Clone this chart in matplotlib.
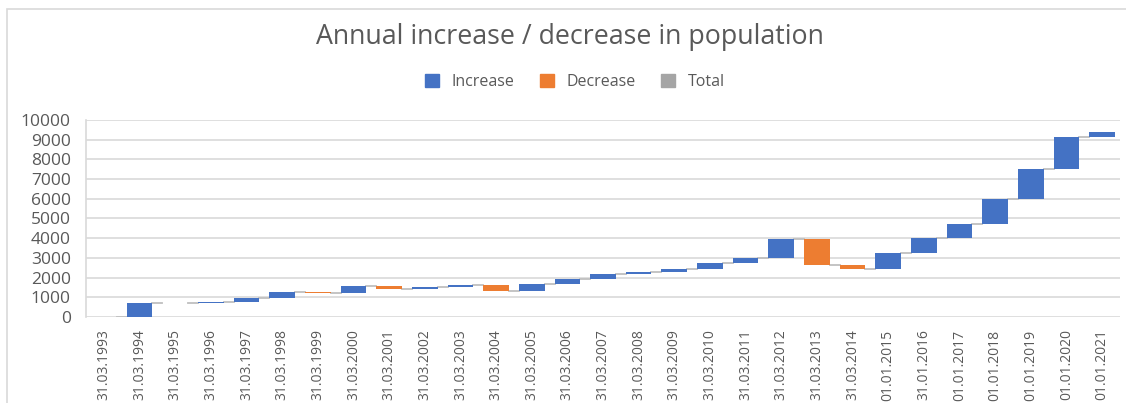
import numpy as np
import matplotlib
matplotlib.use("Agg")
from matplotlib import pyplot as plt
from matplotlib.patches import Patch, Rectangle

dates = ["31.03.1993", "31.03.1994", "31.03.1995", "31.03.1996", "31.03.1997",
         "31.03.1998", "31.03.1999", "31.03.2000", "31.03.2001", "31.03.2002",
         "31.03.2003", "31.03.2004", "31.03.2005", "31.03.2006", "31.03.2007",
         "31.03.2008", "31.03.2009", "31.03.2010", "31.03.2011", "31.03.2012",
         "31.03.2013", "31.03.2014", "01.01.2015", "31.01.2016", "01.01.2017",
         "01.01.2018", "01.01.2019", "01.01.2020", "01.01.2021"]
changes = [0, 690, 40, 50, 160,
           310, -40, 360, -140, 90,
           110, -320, 380, 240, 270,
           100, 140, 280, 270, 980,
           -1350, -160, 770, 780, 690,
           1310, 1490, 1650, 220]
legend_labels = ["Increase", "Decrease", "Total"]

BLUE = "#4472C4"
ORANGE = "#ED7D31"
GREY = "#A5A5A5"
TEXT = "#595959"

plt.rcParams['font.family'] = ['Open Sans', 'DejaVu Sans']

changes = np.array(changes)
ends = np.cumsum(changes)
starts = ends - changes
x = np.arange(len(dates))

fig = plt.figure(figsize=(11.26, 4.03), dpi=100)
ax = fig.add_axes([86 / 1126, 1 - 317 / 403, (1120 - 86) / 1126, (317 - 120) / 403])

colors = [BLUE if c >= 0 else ORANGE for c in changes]
ax.bar(x, changes, bottom=starts, width=0.72, color=colors, zorder=3)

# connectors between bars
w = 0.36
for i in range(len(x) - 1):
    ax.plot([x[i] + w, x[i + 1] - w], [ends[i], ends[i]], color="#BFBFBF", lw=1.3, zorder=2)

ax.set_xlim(-0.5, len(x) - 0.5)
ax.set_ylim(0, 10000)
ax.set_yticks(np.arange(0, 10001, 1000))
ax.set_xticks(x)
ax.set_xticklabels(dates, rotation=90, fontsize=10, color=TEXT)
ax.tick_params(axis='y', labelsize=12.5, colors=TEXT, length=0, pad=11)
ax.tick_params(axis='x', length=0, pad=9)
ax.grid(axis='y', color="#D9D9D9", lw=1.2, zorder=0)
for side in ["top", "right", "bottom"]:
    ax.spines[side].set_visible(False)
ax.spines["left"].set_color("#D9D9D9")
ax.spines["left"].set_linewidth(1.2)

fig.text(570 / 1126, 1 - 37 / 403, "Annual increase / decrease in population",
         ha="center", va="center", fontsize=19.3, color=TEXT)

handles = [Patch(color=BLUE), Patch(color=ORANGE), Patch(color=GREY)]
fig.legend(handles, legend_labels, loc="center", bbox_to_anchor=(575 / 1126, 1 - 82 / 403),
           ncol=3, frameon=False, fontsize=11.5, labelcolor=TEXT,
           handlelength=0.85, handleheight=0.85, columnspacing=1.6, handletextpad=0.8)

# chart border
fig.patches.append(Rectangle((7 / 1126, -0.1), 1.2, 1.1 - 9 / 403, transform=fig.transFigure,
                             fill=False, edgecolor="#D9D9D9", lw=1.2))

fig.savefig("out.png", dpi=100)
